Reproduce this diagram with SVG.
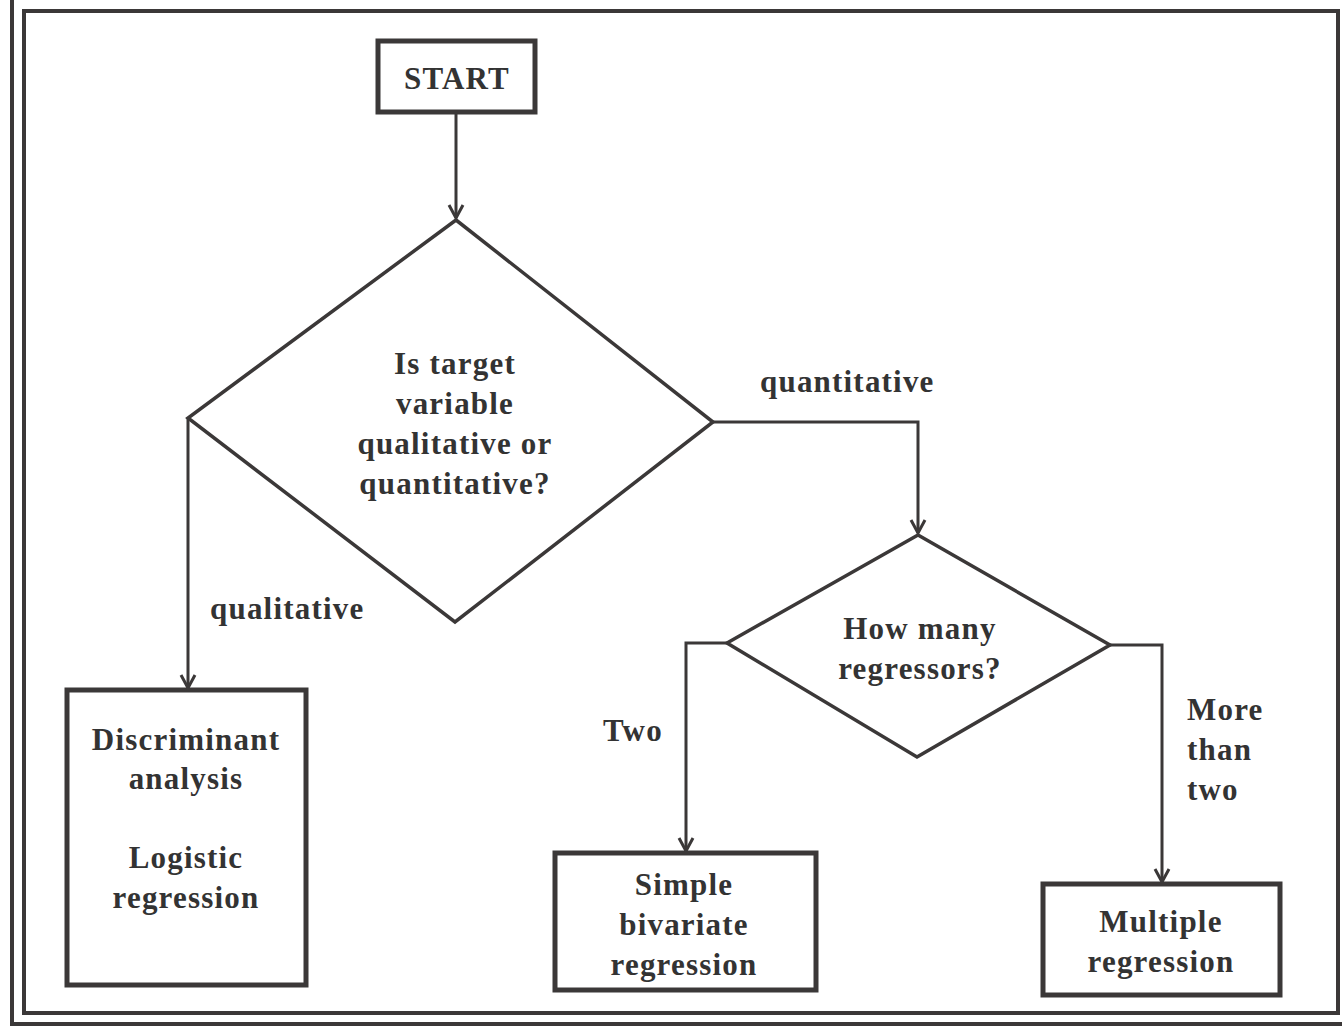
<svg xmlns="http://www.w3.org/2000/svg" width="1342" height="1031" viewBox="0 0 1342 1031">
<defs>
<style>
.frame{fill:none;stroke:#3b3838;stroke-width:4}
.box{fill:#fff;stroke:#3b3838;stroke-width:5}
.dia{fill:#fff;stroke:#3b3838;stroke-width:3.5;stroke-linejoin:miter}
.con{fill:none;stroke:#3b3838;stroke-width:3}
text{font-family:"Liberation Serif","Times New Roman",serif;font-weight:bold;font-size:31px;fill:#333;letter-spacing:1.2px}
.c{text-anchor:middle}
</style>
<marker id="ah" markerUnits="userSpaceOnUse" markerWidth="20" markerHeight="20" refX="17" refY="10" orient="auto" viewBox="0 0 20 20">
<path d="M4,3 L17,10 L4,17" fill="none" stroke="#3b3838" stroke-width="3"/>
</marker>
</defs>
<rect width="1342" height="1031" fill="#fff"/>
<g id="frame">
<polyline class="frame" points="12,0 12,1024 1342,1024"/>
<rect class="frame" x="24" y="11" width="1314" height="1002"/>
</g>
<g id="connectors">
<line class="con" x1="456" y1="113" x2="456" y2="218" marker-end="url(#ah)"/>
<polyline class="con" points="188,418 188,688" marker-end="url(#ah)"/>
<polyline class="con" points="713,422 918,422 918,533" marker-end="url(#ah)"/>
<polyline class="con" points="727,643 686,643 686,851" marker-end="url(#ah)"/>
<polyline class="con" points="1110,645 1162,645 1162,882" marker-end="url(#ah)"/>
<text x="210" y="619">qualitative</text>
<text x="760" y="392">quantitative</text>
<text x="603" y="741">Two</text>
<text x="1187" y="720">More</text>
<text x="1187" y="760">than</text>
<text x="1187" y="800">two</text>
</g>
<g id="start">
<rect class="box" x="378" y="41" width="157" height="71"/>
<text class="c" x="457" y="89">START</text>
</g>
<g id="decision-target">
<polygon class="dia" points="456,220 713,422 455,622 188,418"/>
<text class="c" x="455" y="374">Is target</text>
<text class="c" x="455" y="414">variable</text>
<text class="c" x="455" y="454">qualitative or</text>
<text class="c" x="455" y="494">quantitative?</text>
</g>
<g id="decision-regressors">
<polygon class="dia" points="918,535 1110,645 917,757 727,643"/>
<text class="c" x="920" y="639">How many</text>
<text class="c" x="920" y="679">regressors?</text>
</g>
<g id="discriminant">
<rect class="box" x="67" y="690" width="239" height="295"/>
<text class="c" x="186" y="750">Discriminant</text>
<text class="c" x="186" y="789">analysis</text>
<text class="c" x="186" y="868">Logistic</text>
<text class="c" x="186" y="908">regression</text>
</g>
<g id="simple">
<rect class="box" x="555" y="853" width="261" height="137"/>
<text class="c" x="684" y="895">Simple</text>
<text class="c" x="684" y="935">bivariate</text>
<text class="c" x="684" y="975">regression</text>
</g>
<g id="multiple">
<rect class="box" x="1043" y="884" width="237" height="111"/>
<text class="c" x="1161" y="932">Multiple</text>
<text class="c" x="1161" y="972">regression</text>
</g>
</svg>
